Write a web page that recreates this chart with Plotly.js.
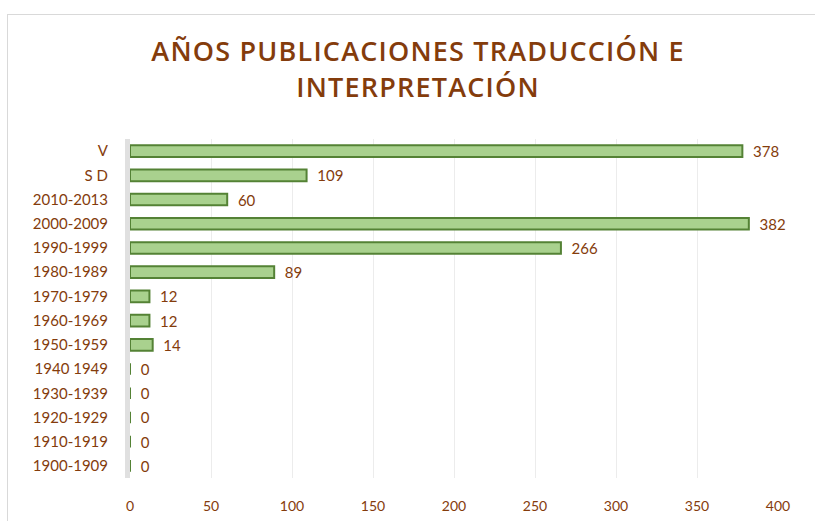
<!DOCTYPE html>
<html><head><meta charset="utf-8">
<script src="https://cdn.plot.ly/plotly-3.0.1.min.js"></script>
<style>
html,body{margin:0;padding:0;background:#fff;}
#wrap{position:relative;width:815px;height:521px;overflow:hidden;}
#frame{position:absolute;left:7px;top:14px;width:900px;height:600px;border:1px solid #d9d9d9;pointer-events:none;}
#chart{position:absolute;left:0;top:0;width:815px;height:521px;}
.gtitle{letter-spacing:1.2px;}
</style></head>
<body><div id="wrap"><div id="chart"></div><div id="frame"></div></div>
<script>
const categories = ["1900-1909","1910-1919","1920-1929","1930-1939","1940 1949","1950-1959","1960-1969","1970-1979","1980-1989","1990-1999","2000-2009","2010-2013","S D","V"];
const values = [0,0,0,0,0,14,12,12,89,266,382,60,109,378];
const xTicks = [0,50,100,150,200,250,300,350,400];
const titleText = "AÑOS PUBLICACIONES TRADUCCIÓN E<br>INTERPRETACIÓN";

const brown = "#843c0c";
const trace = {
  type: "bar", orientation: "h",
  y: categories, x: values,
  texttemplate: "  %{x}", textposition: "outside", constraintext: "none",
  textfont: {family: "Lato, sans-serif", size: 15, color: brown},
  cliponaxis: false,
  marker: {color: "#a9d18e", line: {color: "#548235", width: 2}},
  hoverinfo: "skip"
};
const layout = {
  width: 815, height: 521,
  margin: {l: 130, r: 37, t: 139, b: 43},
  paper_bgcolor: "rgba(0,0,0,0)", plot_bgcolor: "rgba(0,0,0,0)",
  bargap: 0.52,
  showlegend: false,
  title: {text: titleText, x: 0.513, xanchor: "center", y: 0.882, yanchor: "middle", yref: "container",
    font: {family: "Open Sans, sans-serif", size: 27, color: brown, weight: 600}},
  xaxis: {range: [0, 400], tickvals: xTicks, ticktext: xTicks.map(String),
    showgrid: true, gridcolor: "#ececec", gridwidth: 1, zeroline: false, showline: false,
    ticklabelstandoff: 18,
    tickfont: {family: "Lato, sans-serif", size: 14, color: brown}},
  yaxis: {type: "category", categoryorder: "array", categoryarray: categories,
    showgrid: false, zeroline: false, showline: true, linecolor: "#e0e0e0", linewidth: 5,
    ticklabelstandoff: 14,
    tickfont: {family: "Lato, sans-serif", size: 15, color: brown}}
};
Plotly.newPlot("chart", [trace], layout, {displayModeBar: false, staticPlot: true});
</script></body></html>
